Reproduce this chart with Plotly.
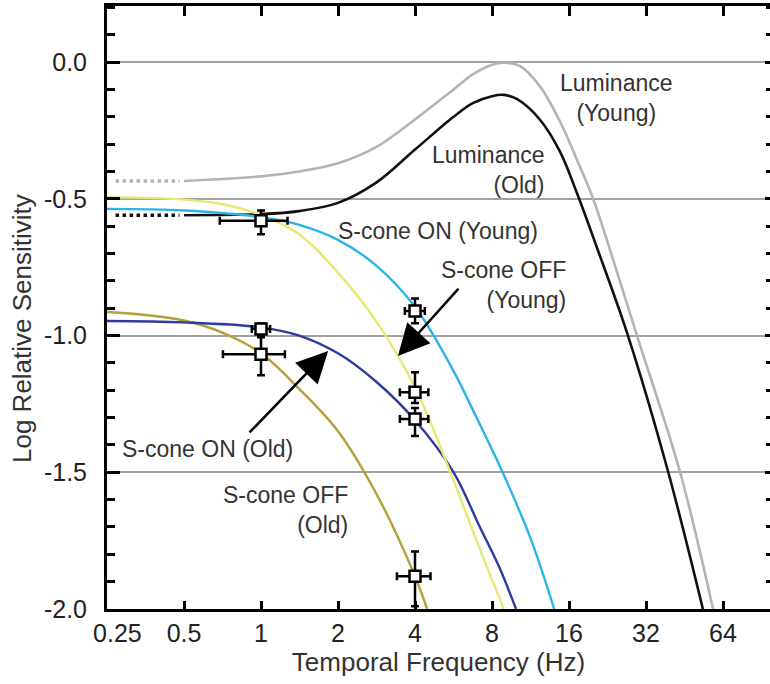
import numpy as np
import plotly.graph_objects as go

# ---- curve data: temporal frequency (Hz) vs log relative sensitivity ----
lum_young_f = [0.5, 1.0, 1.41, 2.0, 2.83, 4.0, 5.66, 6.73, 8.0, 8.9, 10.3, 12.3, 14.8, 17.6, 19.7, 22.5, 29.5, 43.5, 58.5]
lum_young_s = [-0.435, -0.418, -0.40, -0.37, -0.31, -0.21, -0.10, -0.045, -0.01, -0.002, -0.015, -0.088, -0.22, -0.38, -0.49, -0.65, -1.0, -1.5, -2.0]

lum_old_f = [0.5, 1.0, 1.41, 2.0, 2.83, 4.0, 5.66, 6.73, 8.0, 8.9, 10.0, 12.3, 14.8, 17.2, 20.6, 27.2, 39.1, 53.4]
lum_old_s = [-0.56, -0.556, -0.545, -0.515, -0.44, -0.32, -0.20, -0.15, -0.125, -0.12, -0.135, -0.21, -0.33, -0.48, -0.68, -1.0, -1.5, -2.0]

# low-frequency extrapolations of the luminance curves (dotted)
lum_ext_f = [0.27, 0.48]
lum_young_ext_s = [-0.435, -0.435]
lum_old_ext_s = [-0.56, -0.56]

on_young_f = [0.25, 0.5, 1.0, 1.41, 2.0, 2.83, 4.0, 5.66, 6.96, 8.8, 11.3, 14.0]
on_young_s = [-0.537, -0.543, -0.567, -0.595, -0.65, -0.745, -0.895, -1.13, -1.30, -1.5, -1.74, -2.0]

off_young_f = [0.25, 0.5, 0.71, 1.0, 1.41, 2.0, 2.83, 4.0, 5.66, 6.96, 8.9]
off_young_s = [-0.494, -0.503, -0.52, -0.56, -0.63, -0.77, -0.95, -1.19, -1.53, -1.75, -2.0]

on_old_f = [0.25, 0.5, 1.0, 1.41, 2.0, 2.83, 4.0, 5.66, 7.17, 8.57, 9.93]
on_old_s = [-0.947, -0.952, -0.97, -1.0, -1.065, -1.17, -1.31, -1.50, -1.70, -1.85, -2.0]

off_old_f = [0.25, 0.354, 0.5, 0.71, 1.0, 1.41, 2.0, 2.83, 4.0, 4.46]
off_old_s = [-0.914, -0.925, -0.945, -0.99, -1.065, -1.195, -1.35, -1.58, -1.88, -2.0]

# ---- measured points with error bars ----
pts_f = [1, 1, 1, 4, 4, 4, 4]
pts_s = [-0.58, -0.976, -1.068, -0.91, -1.207, -1.305, -1.88]
pts_s_plus = [0.037, 0.02, 0.062, 0.045, 0.073, 0.04, 0.09]
pts_s_minus = [0.05, 0.02, 0.077, 0.045, 0.04, 0.062, 0.11]
pts_f_plus = [0.27, 0.085, 0.24, 0.37, 0.51, 0.51, 0.6]
pts_f_minus = [0.31, 0.08, 0.29, 0.35, 0.51, 0.51, 0.6]

# ---- axes ----
x_ticks = [0.25, 0.5, 1, 2, 4, 8, 16, 32, 64]
x_ticktext = ["\u00a0\u00a0\u00a00.25", "0.5", "1", "2", "4", "8", "16", "32", "64"]
y_range = [-2.0, 0.205]
y_labels = {"\u22122.0": "-2.0", "\u22121.5": "-1.5", "\u22121.0": "-1.0", "\u22120.5": "-0.5"}

FONT = "Liberation Sans, Arial, Helvetica, sans-serif"
TXT = "#333333"
TICK = "black"

fig = go.Figure()

def curve(f, s, color, width=2.4, dash="solid"):
    fig.add_trace(go.Scatter(
        x=f, y=s, mode="lines",
        line=dict(color=color, width=width, dash=dash, shape="spline", smoothing=1.0),
        hoverinfo="skip", showlegend=False))

curve(lum_ext_f, lum_young_ext_s, "#b4b4b4", 3.5, "dot")
curve(lum_ext_f, lum_old_ext_s, "#111111", 3.5, "dot")
curve(lum_young_f, lum_young_s, "#b4b4b4", 2.6)
curve(lum_old_f, lum_old_s, "#111111", 2.6)
curve(off_old_f, off_old_s, "#b5a03a")
curve(on_old_f, on_old_s, "#2d3b9e")
curve(off_young_f, off_young_s, "#e6e872")
curve(on_young_f, on_young_s, "#2ab4ea")

fig.add_trace(go.Scatter(
    x=pts_f, y=pts_s, mode="markers",
    marker=dict(symbol="square", size=11, color="white", line=dict(color="black", width=2.5)),
    error_y=dict(type="data", array=pts_s_plus, arrayminus=pts_s_minus, color="black", thickness=2.5, width=4),
    error_x=dict(type="data", array=pts_f_plus, arrayminus=pts_f_minus, color="black", thickness=2.5, width=4),
    hoverinfo="skip", showlegend=False))

# invisible trace that carries the top / right tick axes
fig.add_trace(go.Scatter(x=[1], y=[-1], xaxis="x2", yaxis="y2", mode="markers",
                         marker=dict(opacity=0), hoverinfo="skip", showlegend=False))

# ---- curve labels ----
def label(text, f, s, xanchor="center", align="center"):
    fig.add_annotation(x=np.log10(f), y=s, xref="x", yref="y", text=text, showarrow=False,
                       xanchor=xanchor, yanchor="middle", align=align,
                       font=dict(family=FONT, size=23, color=TXT))

label("Luminance<br>(Young)", 24.6, -0.132)
label("Luminance<br>(Old)", 13.1, -0.395, "right", "right")
label("S-cone ON (Young)", 12.3, -0.618, "right", "right")
label("S-cone OFF<br>(Young)", 15.9, -0.815, "right", "right")
label("S-cone ON (Old)", 1.36, -1.415, "right", "right")
label("S-cone OFF<br>(Old)", 2.23, -1.638, "right", "right")

def arrow(f_tail, s_tail, f_head, s_head):
    fig.add_annotation(x=np.log10(f_head), y=s_head, ax=np.log10(f_tail), ay=s_tail,
                       xref="x", yref="y", axref="x", ayref="y", text="",
                       showarrow=True, arrowhead=2, arrowsize=2.5, arrowwidth=2.5, arrowcolor="black")

arrow(0.89, -1.36, 1.83, -1.057)
arrow(5.99, -0.823, 3.43, -1.075)

W, H = 770, 684
ML, MR, MT, MB = 107, 0, 6, 75
pw, ph = W - ML - MR, H - MT - MB

# y-axis title, placed by pixel centre (x=22, y=329)
fig.add_annotation(x=(22 - ML) / pw, y=(H - MB - 329) / ph, xref="paper", yref="paper",
                   text="Log Relative Sensitivity", textangle=-90, showarrow=False,
                   xanchor="center", yanchor="middle",
                   font=dict(family=FONT, size=26, color=TXT))

fig.update_layout(
    width=W, height=H,
    margin=dict(l=ML, r=MR, t=MT, b=MB, pad=0),
    paper_bgcolor="white", plot_bgcolor="white",
    font=dict(family=FONT, color=TXT),
    showlegend=False,
)

x_common = dict(type="log", range=[np.log10(0.25), np.log10(97.7)],
                tickmode="array", tickvals=x_ticks,
                ticks="inside", tickwidth=3, tickcolor=TICK,
                showgrid=False, zeroline=False)
y_common = dict(range=y_range, tickmode="linear", tick0=0, dtick=0.5,
                ticks="inside", tickwidth=3, tickcolor=TICK,
                zeroline=False)

fig.update_layout(
    xaxis=dict(**x_common, ticklen=8, ticktext=x_ticktext,
               showline=True, linewidth=2.5, linecolor="black", mirror=True,
               tickfont=dict(family=FONT, size=25, color="#222222"),
               title=dict(text="Temporal Frequency (Hz)", font=dict(family=FONT, size=26, color=TXT), standoff=6)),
    yaxis=dict(**y_common, ticklen=13, tickformat=".1f", labelalias=y_labels,
               minor=dict(tickmode="linear", tick0=0, dtick=0.1, ticks="inside", ticklen=8,
                          tickwidth=3, tickcolor=TICK, showgrid=False),
               showline=True, linewidth=3, linecolor="black",
               showgrid=True, gridcolor="#a3a3a3", gridwidth=2.4,
               tickfont=dict(family=FONT, size=25, color="#222222"),
               ticklabelstandoff=12),
    # top and right tick rows (the right edge of the frame sits just outside the page)
    xaxis2=dict(**x_common, ticklen=10, overlaying="x", side="top", anchor="y2",
                showticklabels=False, showline=False),
    yaxis2=dict(**y_common, ticklen=5, overlaying="y", side="right", anchor="x2",
                minor=dict(tickmode="linear", tick0=0, dtick=0.1, ticks="inside", ticklen=4,
                           tickwidth=3, tickcolor=TICK, showgrid=False),
                showticklabels=False, showline=False, showgrid=False),
)

fig.write_html("out.html")
